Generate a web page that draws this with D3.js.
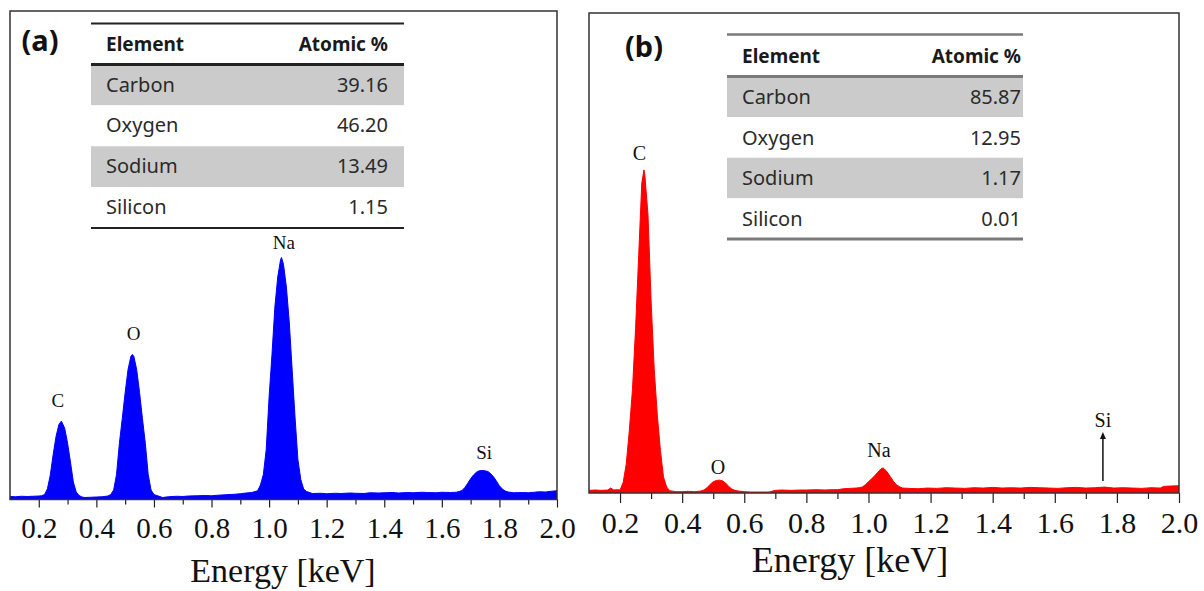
<!DOCTYPE html>
<html>
<head>
<meta charset="utf-8">
<script src="https://cdn.jsdelivr.net/npm/d3@7"></script>
<style>
  body { margin: 0; background: #fff; }
  svg { display: block; }
</style>
</head>
<body>
<svg id="chart" width="1204" height="591"></svg>
<script>
"use strict";

// ---- data ----
const majorTicks = [0.2, 0.4, 0.6, 0.8, 1.0, 1.2, 1.4, 1.6, 1.8, 2.0];
const minorTicks = [0.3, 0.5, 0.7, 0.9, 1.1, 1.3, 1.5, 1.7, 1.9];

const elements = ["Carbon", "Oxygen", "Sodium", "Silicon"];
const atomicA = ["39.16", "46.20", "13.49", "1.15"];
const atomicB = ["85.87", "12.95", "1.17", "0.01"];
const tableHeader = ["Element", "Atomic %"];

const peakNames = ["C", "O", "Na", "Si"];

// spectrum (a), energy in keV, counts in arbitrary units
const energyA = [
  0.10, 0.12, 0.14, 0.16, 0.18, 0.20, 0.21, 0.22, 0.23, 0.24,
  0.25, 0.26, 0.27, 0.278, 0.28, 0.29, 0.30, 0.31, 0.32, 0.33,
  0.34, 0.35, 0.36, 0.38, 0.40, 0.42, 0.44, 0.45, 0.46, 0.47,
  0.48, 0.49, 0.50, 0.51, 0.52, 0.525, 0.53, 0.54, 0.55, 0.56,
  0.57, 0.58, 0.59, 0.60, 0.61, 0.63, 0.65, 0.68, 0.70, 0.72,
  0.75, 0.78, 0.80, 0.82, 0.85, 0.88, 0.90, 0.92, 0.94, 0.96,
  0.97, 0.98, 0.99, 1.00, 1.01, 1.02, 1.03, 1.04, 1.043, 1.05,
  1.06, 1.07, 1.08, 1.09, 1.10, 1.11, 1.12, 1.13, 1.15, 1.18,
  1.20, 1.23, 1.25, 1.28, 1.30, 1.33, 1.35, 1.38, 1.40, 1.43,
  1.45, 1.48, 1.50, 1.53, 1.55, 1.58, 1.60, 1.63, 1.65, 1.66,
  1.67, 1.68, 1.69, 1.70, 1.71, 1.72, 1.73, 1.745, 1.76, 1.77,
  1.78, 1.79, 1.80, 1.81, 1.82, 1.83, 1.85, 1.88, 1.90, 1.92,
  1.94, 1.96, 1.98, 2.00
];
const countsA = [
  1.2, 1.1, 1.3, 1.2, 1.3, 1.4, 1.5, 2.0, 4.3, 9.8,
  18, 25.3, 30, 31.3, 31, 28.5, 22.5, 15, 7, 3,
  1.6, 1.0, 0.8, 0.9, 1.0, 1.1, 1.4, 2.0, 3.8, 10,
  22.5, 32.4, 42.8, 52, 57.3, 58, 57.3, 52, 42.8, 32.4,
  22.5, 10, 3.8, 2.0, 1.6, 0.8, 1.1, 1.3, 1.2, 1.4,
  1.5, 1.6, 1.5, 1.7, 1.9, 2.1, 2.3, 2.6, 2.8, 3.5,
  5.8, 10, 20, 41, 58, 77, 89, 96, 96.8, 94,
  85, 71, 52, 33, 16, 8, 4.2, 3.2, 2.4, 2.5,
  2.3, 2.5, 2.4, 2.6, 2.5, 2.4, 2.7, 2.6, 2.7, 2.8,
  2.6, 2.8, 2.7, 2.9, 2.8, 2.7, 2.9, 2.8, 2.9, 3.2,
  3.6, 4.8, 6.5, 8.3, 9.8, 10.9, 11.5, 11.6, 11.2, 10.3,
  9.0, 7.3, 5.5, 4.2, 3.4, 3.0, 2.7, 2.8, 2.7, 2.9,
  3.1, 3.0, 3.3, 3.5
];

// spectrum (b)
const energyB = [
  0.10, 0.12, 0.14, 0.16, 0.17, 0.18, 0.19, 0.20, 0.21, 0.22,
  0.23, 0.24, 0.25, 0.26, 0.27, 0.277, 0.28, 0.29, 0.30, 0.31,
  0.32, 0.33, 0.34, 0.35, 0.36, 0.38, 0.40, 0.42, 0.44, 0.46,
  0.47, 0.48, 0.49, 0.50, 0.51, 0.52, 0.53, 0.54, 0.55, 0.56,
  0.57, 0.58, 0.60, 0.62, 0.65, 0.68, 0.70, 0.72, 0.75, 0.78,
  0.80, 0.83, 0.86, 0.88, 0.90, 0.92, 0.94, 0.96, 0.97, 0.98,
  0.99, 1.00, 1.01, 1.02, 1.03, 1.04, 1.047, 1.05, 1.06, 1.07,
  1.08, 1.09, 1.10, 1.11, 1.13, 1.16, 1.19, 1.22, 1.25, 1.28,
  1.31, 1.34, 1.37, 1.40, 1.43, 1.46, 1.49, 1.52, 1.55, 1.58,
  1.61, 1.64, 1.67, 1.70, 1.73, 1.76, 1.79, 1.82, 1.85, 1.88,
  1.91, 1.94, 1.95, 1.97, 2.00
];
const countsB = [
  0.8, 0.9, 0.8, 0.9, 1.5, 0.9, 1.0, 0.9, 3.2, 8.8,
  19.1, 31.4, 49.9, 72, 93.9, 97.9, 96.2, 84.2, 58.2, 37.5,
  23.6, 12.9, 4.8, 1.8, 0.7, 0.4, 0.4, 0.5, 0.4, 0.6,
  0.9, 1.6, 2.6, 3.4, 3.8, 3.9, 3.7, 3.0, 2.0, 1.2,
  0.8, 0.6, 0.4, 0.3, 0.3, 0.3, 0.8, 0.9, 0.8, 0.9,
  0.9, 1.0, 0.9, 1.0, 1.0, 1.3, 1.4, 1.5, 1.6, 1.8,
  2.5, 3.4, 4.3, 5.2, 6.3, 7.3, 7.6, 7.4, 6.4, 5.0,
  3.6, 2.5, 1.9, 1.5, 1.4, 1.3, 1.5, 1.4, 1.6, 1.5,
  1.4, 1.6, 1.5, 1.7, 1.5, 1.6, 1.5, 1.7, 1.6, 1.5,
  1.4, 1.6, 1.7, 1.5, 1.6, 1.8, 1.5, 1.6, 1.5, 1.4,
  1.6, 1.5, 2.0, 2.1, 2.2
];

// where the peak names sit (energy, counts)
const labelEnergyA = [0.266, 0.529, 1.051, 1.747];
const labelCountA = [37, 63.8, 100.2, 16.2];
const labelEnergyB = [0.262, 0.515, 1.034, 1.755];
const labelCountB = [100.9, 5.8, 10.9, 20];
const siArrowB = [3.6, 18.5];

const svg = d3.select('#chart');
const serif = '"Liberation Serif", "Times New Roman", serif';
const sans = '"Noto Sans", "Open Sans", sans-serif';

function drawPanel(p) {
  const g = svg.append('g');
  const x = d3.scaleLinear().domain([0.1, 2.0]).range([p.left, p.right]);
  const y = d3.scaleLinear().domain([0, 100]).range([p.bottom, p.bottom - 100 * p.unit]);

  const spectrum = p.energy.map((e, i) => ({ e: e, c: p.counts[i] }));

  g.append('clipPath').attr('id', 'clip' + p.id)
    .append('rect')
    .attr('x', p.left).attr('y', p.top)
    .attr('width', p.right - p.left).attr('height', p.bottom - p.top);

  const area = d3.area()
    .curve(d3.curveLinear)
    .x(d => x(d.e))
    .y0(y(0))
    .y1(d => y(d.c));

  g.append('path')
    .datum(spectrum)
    .attr('clip-path', `url(#clip${p.id})`)
    .attr('d', area)
    .attr('fill', p.color)
    .attr('stroke', p.color)
    .attr('stroke-width', 1);

  // minor ticks
  g.append('g')
    .attr('transform', `translate(0, ${p.bottom})`)
    .call(d3.axisBottom(x).tickValues(minorTicks).tickSize(p.minorLen).tickFormat(''))
    .call(a => a.select('.domain').remove())
    .call(a => a.selectAll('line').attr('stroke', '#222').attr('stroke-width', 1.2));

  // major ticks + labels
  g.append('g')
    .attr('transform', `translate(0, ${p.bottom})`)
    .call(d3.axisBottom(x).tickValues(majorTicks).tickSize(p.majorLen)
      .tickPadding(p.pad).tickFormat(d3.format('.1f')))
    .call(a => a.select('.domain').remove())
    .call(a => a.selectAll('line').attr('stroke', '#222').attr('stroke-width', 1.2))
    .call(a => a.selectAll('text')
      .attr('fill', '#111')
      .style('font-family', serif)
      .style('font-size', p.tickFont + 'px'));

  // frame
  g.append('rect')
    .attr('x', p.left).attr('y', p.top)
    .attr('width', p.right - p.left).attr('height', p.bottom - p.top)
    .attr('fill', 'none')
    .attr('stroke', '#333')
    .attr('stroke-width', 1.5);

  // axis title
  g.append('text')
    .attr('x', p.titleX).attr('y', p.titleY)
    .attr('text-anchor', 'middle')
    .style('font-family', serif)
    .style('font-size', p.titleFont + 'px')
    .attr('fill', '#111')
    .text('Energy [keV]');

  // peak names
  g.selectAll('text.peak')
    .data(peakNames)
    .enter()
    .append('text')
    .attr('class', 'peak')
    .attr('x', (d, i) => x(p.labelEnergy[i]))
    .attr('y', (d, i) => y(p.labelCount[i]))
    .attr('text-anchor', 'middle')
    .style('font-family', serif)
    .style('font-size', p.labelFont + 'px')
    .attr('fill', '#111')
    .text(d => d);

  if (p.arrow) {
    const ax = x(p.labelEnergy[3]);
    g.append('line')
      .attr('x1', ax).attr('x2', ax)
      .attr('y1', y(p.arrow[0])).attr('y2', y(p.arrow[1]) + 5)
      .attr('stroke', '#111').attr('stroke-width', 1.5);
    g.append('path')
      .attr('d', `M${ax},${y(p.arrow[1])} l-3,7 l6,0 z`)
      .attr('fill', '#111');
  }

  // panel tag
  g.append('text')
    .attr('x', p.tagX).attr('y', p.tagY)
    .attr('text-anchor', 'middle')
    .style('font-family', sans)
    .style('font-weight', 'bold')
    .style('font-size', '29px')
    .attr('fill', '#111')
    .text(p.tag);

  // composition table
  const t = p.table;
  const tg = g.append('g');
  const rowH = (t.bottom - t.head) / elements.length;

  tg.selectAll('rect.row')
    .data(elements)
    .enter()
    .append('rect')
    .attr('class', 'row')
    .attr('x', t.x0)
    .attr('y', (d, i) => t.head + i * rowH)
    .attr('width', t.x1 - t.x0)
    .attr('height', rowH)
    .attr('fill', (d, i) => i % 2 === 0 ? '#cbcbcb' : '#fff');

  tg.append('text')
    .attr('x', t.textX).attr('y', t.top + t.headBase)
    .style('font-family', sans).style('font-weight', 'bold').style('font-size', '19px')
    .attr('fill', '#1a1a1a')
    .text(tableHeader[0]);
  tg.append('text')
    .attr('x', t.valX).attr('y', t.top + t.headBase)
    .attr('text-anchor', 'end')
    .style('font-family', sans).style('font-weight', 'bold').style('font-size', '19px')
    .attr('fill', '#1a1a1a')
    .text(tableHeader[1]);

  tg.selectAll('text.name')
    .data(elements)
    .enter()
    .append('text')
    .attr('class', 'name')
    .attr('x', t.textX)
    .attr('y', (d, i) => t.head + i * rowH + t.rowBase)
    .style('font-family', sans).style('font-size', '20px')
    .attr('fill', '#2a2a2a')
    .text(d => d);

  tg.selectAll('text.val')
    .data(p.atomic)
    .enter()
    .append('text')
    .attr('class', 'val')
    .attr('x', t.valX)
    .attr('y', (d, i) => t.head + i * rowH + t.rowBase)
    .attr('text-anchor', 'end')
    .style('font-family', sans).style('font-size', '20px')
    .attr('fill', '#2a2a2a')
    .text(d => d);

  [[t.top, t.topW], [t.head, t.headW], [t.bottom, t.bottomW]].forEach(function (l) {
    tg.append('line')
      .attr('x1', t.x0).attr('x2', t.x1)
      .attr('y1', l[0]).attr('y2', l[0])
      .attr('stroke', t.lineColor)
      .attr('stroke-width', l[1]);
  });
}

drawPanel({
  id: 'a', tag: '(a)', tagX: 40, tagY: 51,
  left: 10, right: 557, top: 11, bottom: 499.5, unit: 2.5,
  color: '#0000ff',
  energy: energyA, counts: countsA, atomic: atomicA,
  labelEnergy: labelEnergyA, labelCount: labelCountA,
  labelFont: 19,
  majorLen: 8, minorLen: 5, pad: 10, tickFont: 29,
  titleX: 283, titleY: 582, titleFont: 34,
  table: { x0: 91, x1: 404, top: 23.5, head: 64.5, bottom: 228, headBase: 27.5,
           rowBase: 27, textX: 106, valX: 388, lineColor: '#222',
           topW: 2, headW: 3, bottomW: 2 }
});

drawPanel({
  id: 'b', tag: '(b)', tagX: 644, tagY: 57,
  left: 589, right: 1179, top: 13, bottom: 493, unit: 3.3,
  color: '#ff0000',
  energy: energyB, counts: countsB, atomic: atomicB,
  labelEnergy: labelEnergyB, labelCount: labelCountB, arrow: siArrowB,
  labelFont: 20,
  majorLen: 10, minorLen: 6, pad: 9, tickFont: 30,
  titleX: 850, titleY: 572, titleFont: 36,
  table: { x0: 727, x1: 1023, top: 34.5, head: 76.5, bottom: 239, headBase: 28.5,
           rowBase: 27.5, textX: 742, valX: 1021, lineColor: '#7a7a7a',
           topW: 2.5, headW: 3, bottomW: 3 }
});
</script>
</body>
</html>
